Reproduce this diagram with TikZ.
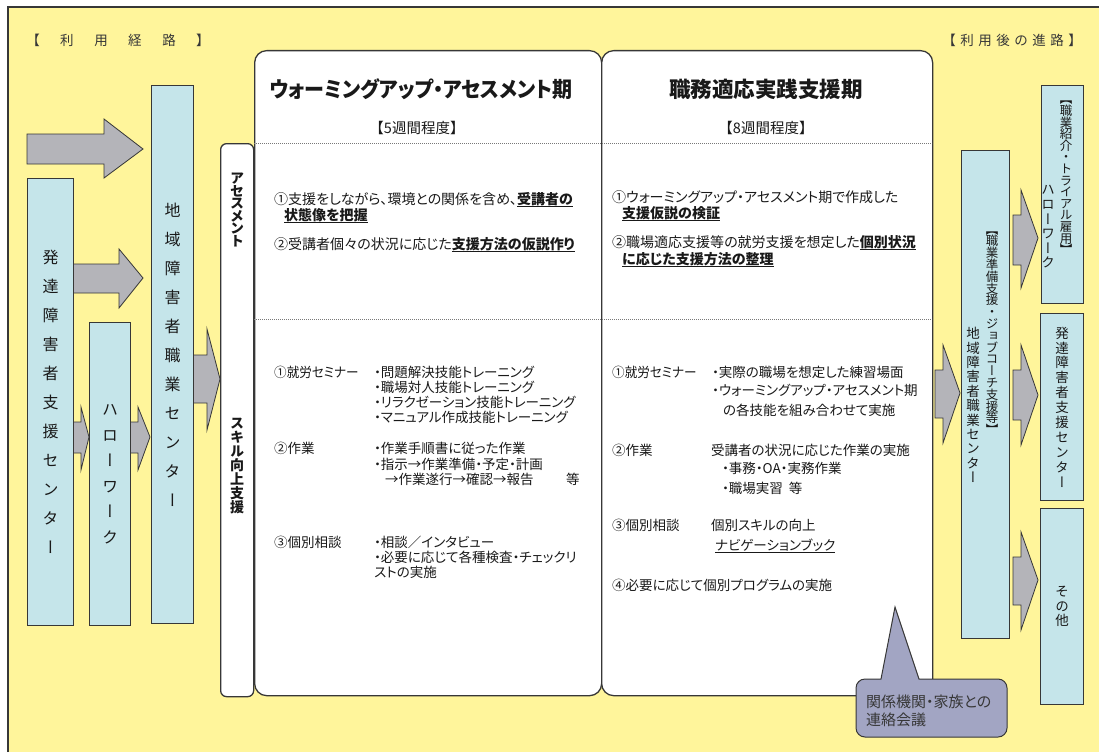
\documentclass[tikz,border=0pt]{standalone}
\usepackage{fontspec}
\setmainfont{Noto Sans CJK JP}[RawFeature=+palt]
\newfontfamily\jfw{Noto Sans CJK JP}
\newfontfamily\vfont{Noto Sans CJK JP}[RawFeature=+vert]
\definecolor{bgy}{RGB}{255,245,155}
\definecolor{lblue}{RGB}{197,229,234}
\definecolor{agray}{RGB}{180,180,185}
\definecolor{callc}{RGB}{162,165,195}
\definecolor{edge}{RGB}{55,55,55}
\definecolor{txt}{RGB}{25,25,25}
\definecolor{dotc}{RGB}{120,120,120}
\ExplSyntaxOn
\NewDocumentCommand\vt{m}{\parindent=0pt\parskip=0pt\lineskiplimit=-100pt\relax\tl_map_inline:nn{#1}{##1\par}}
\ExplSyntaxOff
\newsavebox\ubox
\newcommand\bu[1]{\sbox\ubox{\textbf{#1}}\rlap{\rule[-2.6pt]{\wd\ubox}{1.1pt}}\usebox\ubox}
\newcommand\nul[1]{\sbox\ubox{#1}\rlap{\rule[-2.6pt]{\wd\ubox}{0.7pt}}\usebox\ubox}
\newcommand\fatarrow[8]{\filldraw[fat] (#1,#4) -- (#3,#4) -- (#3,#6) -- (#2,#8) -- (#3,#7) -- (#3,#5) -- (#1,#5) -- cycle;}
\tikzset{
  fat/.style={fill=agray, draw=edge, line width=0.8pt, line join=miter},
  lb/.style={draw=edge, fill=lblue, line width=1pt, inner sep=0pt, anchor=north west},
  vtx/.style={text width=24pt, align=center, inner sep=0pt, text=txt},
  panel/.style={draw=edge, fill=white, line width=1.3pt, rounded corners=12pt, inner sep=0pt, anchor=north west},
  tx/.style={anchor=base west, inner sep=0pt, text=txt, font=\fontsize{14}{16}\selectfont},
  lx/.style={anchor=base west, inner sep=0pt, text=txt, font=\fontsize{13.5}{16}\selectfont},
  hd/.style={inner sep=0pt, text=edge, font=\jfw\fontsize{13.5}{16}\selectfont},
  dotline/.style={dotc, line width=0.7pt, dash pattern=on 0.8pt off 1.2pt}
}
\begin{document}
\begin{tikzpicture}[x=1pt,y=-1pt]
\useasboundingbox (0,0) rectangle (1099,752);
\fill[white] (0,0) rectangle (1099,752);
\fill[bgy] (8,7) rectangle (1099,752);
\draw[edge, line width=1.2pt] (8,752) -- (8,7) -- (1099,7);

% headers
\node[hd] (h1) at (118,40) {【\hspace{20.5pt}利\hspace{20.5pt}用\hspace{20.5pt}経\hspace{20.5pt}路\hspace{20.5pt}】};
\node[hd] (h2) at (1012,40) {【\hspace{4.5pt}利\hspace{4.5pt}用\hspace{4.5pt}後\hspace{4.5pt}の\hspace{4.5pt}進\hspace{4.5pt}路\hspace{4.5pt}】};

% arrows (drawn beneath boxes)
\fatarrow{27}{143}{104}{134}{164}{119}{178}{149}
\fatarrow{73}{143}{119}{264}{293}{249}{308}{278}
\fatarrow{73}{89}{81}{422}{453}{407}{470}{437}
\fatarrow{130}{150}{138}{422}{453}{407}{470}{437}
\fatarrow{193}{220}{207}{355}{403}{329}{430}{379}
\fatarrow{935}{960}{943}{370}{418}{345}{443}{393}
\fatarrow{1013}{1038}{1021}{215}{265}{190}{288}{238}
\fatarrow{1013}{1038}{1021}{370}{420}{345}{445}{395}
\fatarrow{1013}{1038}{1021}{557}{605}{532}{630}{580}

% left boxes
\node[lb, vtx, minimum width=46, minimum height=447, font=\vfont\fontsize{16}{29}\selectfont] (hs) at (27,178) {\vt{発達障害者支援センター}};
\node[lb, vtx, minimum width=41, minimum height=303, font=\vfont\fontsize{16}{25.5}\selectfont] (hw) at (89,322) {\vt{ハローワーク}};
\node[lb, vtx, minimum width=42, minimum height=538, font=\vfont\fontsize{16}{29}\selectfont] (cc) at (151,85) {\vt{地域障害者職業センター}};

% right boxes
\node[lb, minimum width=48, minimum height=488] (rc) at (961,150) {};
\node[vtx, font=\vfont\fontsize{12.5}{11.8}\selectfont] (rc1) at (992,333) {\vt{【職業準備支援・ジョブコーチ支援等】}};
\node[vtx, font=\vfont\fontsize{13.5}{14.4}\selectfont] (rc2) at (973,405) {\vt{地域障害者職業センター}};
\node[lb, minimum width=42, minimum height=218] (rh) at (1041,85) {};
\node[vtx, font=\vfont\fontsize{12.5}{11.6}\selectfont] (rh1) at (1066,178) {\vt{【職業紹介・トライアル雇用】}};
\node[vtx, font=\vfont\fontsize{13.5}{14.6}\selectfont] (rh2) at (1048,227) {\vt{ハローワーク}};
\node[lb, vtx, minimum width=43, minimum height=187, font=\vfont\fontsize{13.5}{14.9}\selectfont] (rd) at (1040,313) {\vt{発達障害者支援センター}};
\node[lb, vtx, minimum width=43, minimum height=196, font=\vfont\fontsize{13.5}{14.5}\selectfont] (ro) at (1040,508) {\vt{その他}};

% panels and tab
\node[panel, minimum width=347, minimum height=645] (p1) at (254,50) {};
\node[panel, minimum width=331, minimum height=645] (p2) at (601,50) {};
\node[panel, rounded corners=6pt, minimum width=33, minimum height=553] (tab) at (220,143) {};
\draw[dotline] (254,143) -- (932,143);
\draw[dotline] (254,319) -- (932,319);

\node[vtx, font=\vfont\bfseries\fontsize{14}{12.5}\selectfont] (tab1) at (237,210) {\vt{アセスメント}};
\node[vtx, font=\vfont\bfseries\fontsize{14}{14}\selectfont] (tab2) at (237,466) {\vt{スキル向上支援}};

% titles
\node[inner sep=0pt, text=txt, font=\bfseries\fontsize{21.5}{24}\selectfont] (t1) at (421,89) {\scalebox{0.93}[1]{ウォーミングアップ・アセスメント期}};
\node[inner sep=0pt, text=txt, font=\bfseries\fontsize{21.5}{24}\selectfont] (t2) at (766,89) {職務適応実践支援期};
\node[inner sep=0pt, text=txt, font=\jfw\fontsize{14.5}{16}\selectfont] (d1) at (417,128) {【5週間程度】};
\node[inner sep=0pt, text=txt, font=\jfw\fontsize{14.5}{16}\selectfont] (d2) at (766,128) {【8週間程度】};

% panel 1 upper
\node[tx] (u11) at (274,204) {①支援をしながら、環境との関係を含め、\bu{受講者の}};
\node[tx] (u12) at (284,220) {\bu{状態像を把握}};
\node[tx] (u13) at (274,249) {②受講者個々の状況に応じた\bu{支援方法の仮説作り}};
% panel 2 upper
\node[tx] (u21) at (612,202) {①ウォーミングアップ・アセスメント期で作成した};
\node[tx] (u22) at (622,218) {\bu{支援仮説の検証}};
\node[tx] (u23) at (612,247) {②職場適応支援等の就労支援を想定した\bu{個別状況}};
\node[tx] (u24) at (622,264) {\bu{に応じた支援方法の整理}};

% panel 1 lower
\node[lx] (l11) at (274,377) {\scalebox{0.93}[1]{①就労セミナー}};
\node[lx] (l12) at (374,377) {・問題解決技能トレーニング};
\node[lx] (l13) at (374,392) {・職場対人技能トレーニング};
\node[lx] (l14) at (374,407) {・リラクゼーション技能トレーニング};
\node[lx] (l15) at (374,422) {・マニュアル作成技能トレーニング};
\node[lx] (l16) at (274,453) {②作業};
\node[lx] (l17) at (374,453) {・作業手順書に従った作業};
\node[lx] (l18) at (374,469) {・指示→作業準備・予定・計画};
\node[lx] (l19) at (385,484) {→作業遂行→確認→報告};
\node[lx] (l1a) at (566,484) {等};
\node[lx] (l1b) at (274,547) {③個別相談};
\node[lx] (l1c) at (374,547) {・相談／インタビュー};
\node[lx] (l1d) at (374,562) {・必要に応じて各種検査・チェックリ};
\node[lx] (l1e) at (374,577) {ストの実施};

% panel 2 lower
\node[lx] (l21) at (612,377) {\scalebox{0.93}[1]{①就労セミナー}};
\node[lx] (l22) at (712,377) {・実際の職場を想定した練習場面};
\node[lx] (l23) at (712,395) {・ウォーミングアップ・アセスメント期};
\node[lx] (l24) at (723,415) {の各技能を組み合わせて実施};
\node[lx] (l25) at (612,455) {②作業};
\node[lx] (l26) at (711,455) {受講者の状況に応じた作業の実施};
\node[lx] (l27) at (722,473) {・事務・OA・実務作業};
\node[lx] (l28) at (722,493) {・職場実習\hspace{6pt}等};
\node[lx] (l29) at (612,530) {③個別相談};
\node[lx] (l2a) at (711,530) {個別スキルの向上};
\node[lx] (l2b) at (715,550) {\nul{ナビゲーションブック}};
\node[lx] (l2c) at (612,590) {④必要に応じて個別プログラムの実施};

% callout
\coordinate (cbl) at (881,679);
\coordinate (ctip) at (895,607);
\coordinate (cbr) at (919,679);
\filldraw[fill=callc, draw=edge, line width=1pt] (cbl) [sharp corners] -- (ctip) -- (cbr) [rounded corners=9pt] -- (1007,679) -- (1007,737) -- (856,737) -- (856,679) [sharp corners] -- cycle;
\node[tx, text=edge, font=\fontsize{15}{17}\selectfont] (c1) at (866,707) {関係機関・家族との};
\node[tx, text=edge, font=\fontsize{15}{17}\selectfont] (c2) at (866,725) {連絡会議};
\end{tikzpicture}
\end{document}
